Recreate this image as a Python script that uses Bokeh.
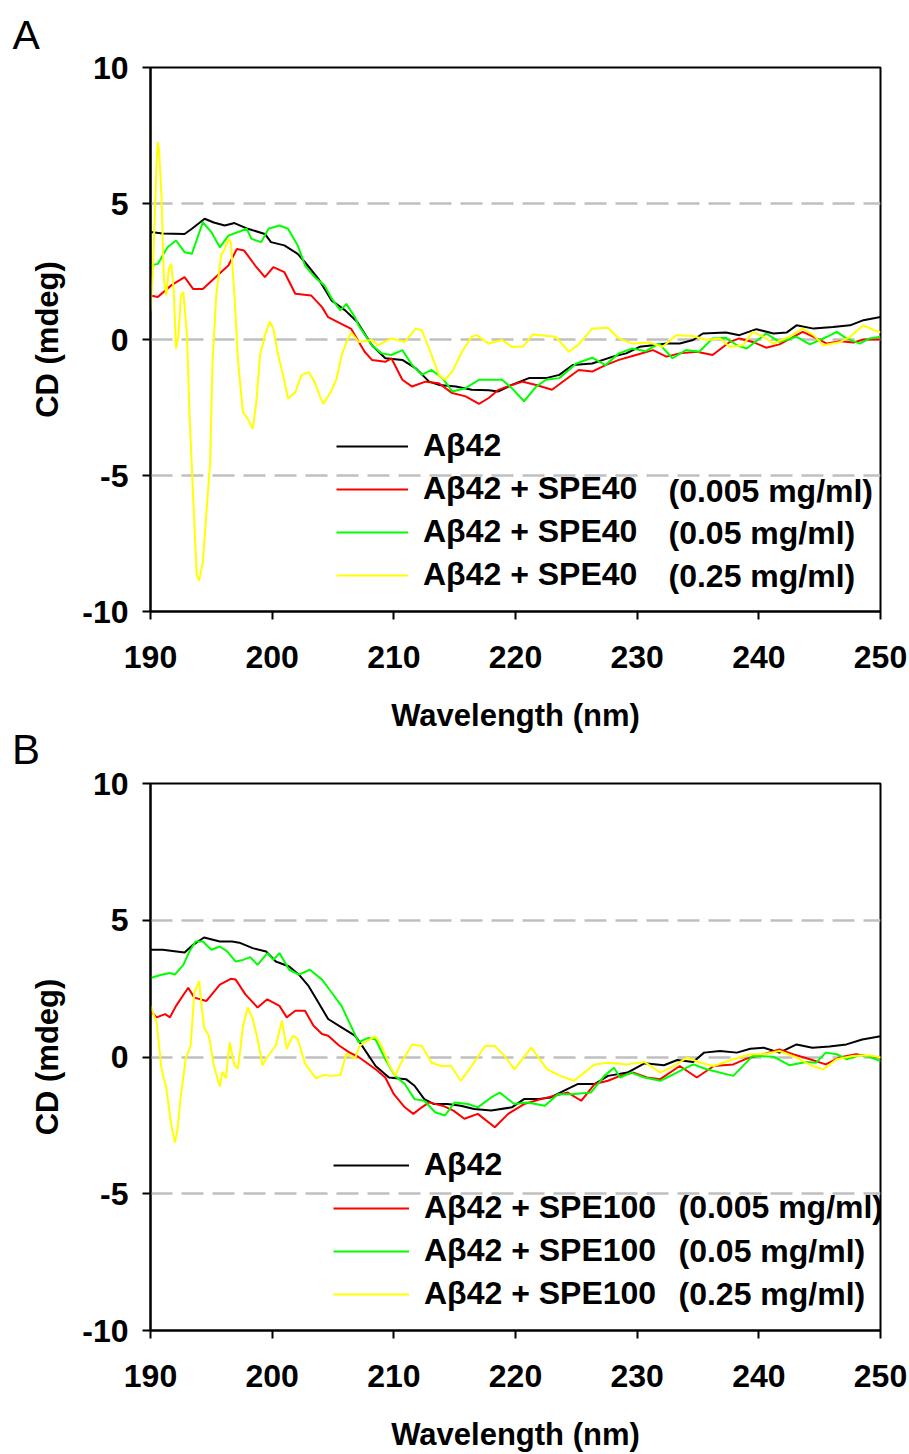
from bokeh.plotting import figure
from bokeh.models import Legend, LegendItem, FixedTicker, Range1d, Title, Label, Div
from bokeh.layouts import column
from bokeh.embed import file_html
from bokeh.resources import INLINE

FONT = "Liberation Sans"

# ---------------- Panel A data (wavelength nm, CD mdeg) ----------------
a_black_x = [190, 191, 192.8, 193.4, 194.45, 195.2, 196.1, 196.9, 198, 199.4, 199.9, 201, 202.1, 202.7,
             203.8, 204.9, 206, 207, 208.2, 209.3, 210.7, 211.8, 212.9, 213.7, 215.1, 216.4, 217.8, 218.6,
             219.7, 221.1, 222.5, 223.6, 224.7, 226.3, 228, 229.1, 230.2, 231.3, 232.4, 233.5, 234.6, 235.4,
             237.3, 238.4, 239.8, 241.2, 242.3, 243.1, 244.5, 246.1, 247.5, 248.6, 250]
a_black_y = [3.95, 3.9, 3.88, 4.07, 4.44, 4.3, 4.19, 4.28, 4.07, 3.88, 3.58, 3.46, 3.15, 2.84,
             2.23, 1.43, 1.07, 0.64, -0.21, -0.69, -0.75, -1.06, -1.55, -1.67, -1.73, -1.85, -1.87, -1.91,
             -1.67, -1.42, -1.42, -1.30, -0.94, -0.88, -0.63, -0.51, -0.27, -0.21, -0.15, -0.15, -0.02, 0.22,
             0.26, 0.16, 0.38, 0.22, 0.26, 0.52, 0.40, 0.46, 0.52, 0.71, 0.83]

a_red_x = [190, 190.6, 191.7, 192.8, 193.5, 194.3, 195.5, 196.4, 197.1, 197.7, 198.6, 199.4, 200.1, 201,
           201.9, 203.2, 204.1, 204.6, 205.4, 206.5, 207, 207.6, 208.2, 209.3, 209.8, 210.7, 211.5, 212.6,
           213.7, 214.8, 215.9, 217, 217.8, 218.6, 219.7, 220.6, 221.7, 223, 224.1, 225.2, 226.3, 227.4,
           228.5, 229.9, 231.3, 232.4, 233.5, 234.9, 236.2, 237.6, 238.4, 239.5, 240.6, 241.7, 243.6, 244.5,
           245.6, 246.7, 247.8, 248.6, 250]
a_red_y = [1.62, 1.56, 1.99, 2.29, 1.86, 1.86, 2.35, 2.72, 3.33, 3.27, 2.72, 2.29, 2.66, 2.48,
           1.68, 1.62, 1.19, 0.82, 0.64, 0.39, 0.0, -0.45, -0.75, -0.82, -0.69, -1.48, -1.73, -1.55,
           -1.61, -1.97, -2.09, -2.37, -2.15, -1.85, -1.67, -1.55, -1.67, -1.85, -1.48, -1.12, -1.18, -0.94,
           -0.75, -0.57, -0.39, -0.63, -0.51, -0.45, -0.57, -0.09, 0.04, -0.09, -0.30, -0.18, 0.28, 0.10,
           -0.15, -0.06, -0.11, 0.0, 0.0]

a_green_x = [190, 190.6, 191.4, 192.1, 192.8, 193.4, 194.3, 195, 195.7, 196.4, 197.2, 197.9, 198.3, 199.1,
             199.7, 200.6, 201.3, 202.1, 202.7, 203.5, 204.3, 204.9, 205.6, 206.1, 206.8, 207.1, 208.2, 209,
             209.8, 210.7, 211.5, 212.3, 213.1, 214, 214.8, 215.9, 217, 218.1, 218.9, 219.7, 220.7, 221.7,
             222.5, 223.6, 225, 226.3, 227.4, 228.5, 229.6, 230.7, 231.8, 232.9, 234, 235.1, 236.2, 237.3,
             238.2, 239, 240.6, 241.7, 243.1, 244.2, 245.6, 246.4, 247.2, 248.3, 249.1, 250]
a_green_y = [2.72, 2.78, 3.39, 3.64, 3.21, 3.15, 4.31, 3.95, 3.39, 3.82, 3.95, 4.07, 3.70, 3.58,
             4.07, 4.19, 4.07, 3.46, 2.72, 2.29, 1.99, 1.50, 1.07, 1.31, 0.82, 0.52, -0.21, -0.51,
             -0.57, -0.39, -0.94, -1.30, -1.12, -1.42, -1.91, -1.79, -1.48, -1.48, -1.48, -1.79, -2.27, -1.73,
             -1.48, -1.42, -0.88, -0.67, -0.94, -0.51, -0.33, -0.43, -0.15, -0.69, -0.39, -0.45, 0.04, 0.06,
             -0.21, -0.33, 0.22, -0.09, 0.10, -0.18, 0.10, 0.28, 0.04, -0.15, 0.04, 0.10]

a_yellow_x = [190, 190.2, 190.5, 190.6, 190.7, 190.9, 191.1, 191.3, 191.5, 191.7, 191.9, 192.1, 192.3, 192.5,
              192.7, 193, 193.2, 193.5, 193.8, 194, 194.3, 194.6, 194.9, 195.1, 195.4, 195.8, 196.1, 196.4,
              196.6, 196.9, 197.2, 197.6, 198, 198.4, 198.7, 199, 199.4, 199.8, 200.1, 200.5, 200.9, 201.3,
              201.9, 202.4, 203, 203.5, 203.9, 204.2, 204.8, 205.3, 205.7, 206.1, 206.5, 207.1, 208.2, 208.7,
              209.8, 210.9, 211.8, 212.3, 213.1, 213.7, 214.2, 214.8, 215.6, 216.4, 216.8, 217.8, 218.9, 219.7,
              220.6, 221.4, 223.3, 224.4, 225.2, 226.3, 227.6, 228.5, 229.6, 231, 232.1, 233.2, 234.6, 235.7,
              236.8, 237.6, 238.7, 239.5, 240.4, 241.2, 242.5, 243.6, 244.5, 245.3, 246.7, 247.5, 248.6, 249.5,
              250]
a_yellow_y = [1.07, 2.60, 6.52, 7.25, 7.0, 5.29, 2.23, 1.62, 2.60, 2.78, 1.86, -0.34, 0.15, 1.62,
              1.74, 0.15, -2.67, -5.74, -8.68, -8.86, -8.19, -6.35, -4.51, -0.83, 1.62, 3.09, 3.33, 3.70,
              3.58, 1.62, -0.83, -2.67, -2.92, -3.28, -2.30, -0.59, 0.15, 0.66, 0.39, -0.59, -1.32, -2.18,
              -1.94, -1.32, -1.20, -1.57, -2.06, -2.37, -1.94, -1.45, -0.59, -0.10, 0.25, -0.09, -0.02, -0.21,
              0.04, -0.09, 0.40, 0.34, -0.57, -1.30, -1.48, -1.18, -0.45, 0.10, 0.16, -0.15, -0.02, -0.27,
              -0.27, 0.18, 0.10, -0.45, -0.18, 0.40, 0.43, 0.04, -0.15, -0.11, -0.27, 0.16, 0.13, -0.02,
              0.04, -0.27, -0.21, 0.28, 0.10, -0.15, 0.10, 0.40, 0.16, -0.21, -0.09, 0.10, 0.52, 0.34,
              0.26]

# ---------------- Panel B data ----------------
b_black_x = [190, 191, 192.8, 193.5, 194.4, 195.7, 196.7, 197.3, 198.4, 199.5, 200.3, 201.4, 202.2, 203,
             203.8, 204.6, 205.7, 206.8, 207.3, 208.5, 209.6, 211, 211.7, 212.5, 213.3, 214.4, 215.5, 216.6,
             218, 219.7, 220.7, 221.8, 222.9, 224, 225.1, 226.5, 227.6, 229.2, 230.6, 232.2, 233.3, 234.6,
             235.5, 236.8, 238.2, 239.3, 240.4, 241.7, 243.1, 244.4, 245.8, 247.2, 248.5, 250]
b_black_y = [3.92, 3.92, 3.82, 4.10, 4.37, 4.22, 4.22, 4.18, 3.98, 3.86, 3.49, 3.31, 3.01, 2.59,
             1.99, 1.39, 1.08, 0.78, 0.47, -0.33, -0.75, -0.81, -1.05, -1.54, -1.72, -1.72, -1.78, -1.90,
             -1.96, -1.84, -1.54, -1.54, -1.48, -1.23, -0.99, -0.99, -0.69, -0.57, -0.23, -0.30, -0.11, -0.18,
             0.16, 0.22, 0.16, 0.30, 0.34, 0.16, 0.46, 0.34, 0.38, 0.46, 0.64, 0.76]

b_red_x = [190, 190.5, 191.2, 191.6, 192.1, 193.1, 193.6, 194.6, 195.7, 196.6, 197, 197.8, 198.8, 199.6,
           200.6, 201.2, 201.9, 202.7, 203.4, 204.1, 204.6, 205.5, 206.3, 207.1, 208.5, 209.3, 210, 210.9,
           211.6, 212.3, 212.9, 214, 214.9, 215.8, 216.9, 218.3, 219.4, 220.7, 222.1, 223.2, 224.3, 225.4,
           226.5, 227.6, 228.6, 229.7, 230.8, 231.9, 233.5, 234.9, 236.3, 237.9, 239, 240.4, 241.7, 242.8,
           244.2, 245.5, 246.6, 248, 248.8, 250]
b_red_y = [1.69, 1.45, 1.57, 1.45, 1.87, 2.53, 2.17, 2.05, 2.65, 2.86, 2.83, 2.29, 1.81, 2.11,
           1.87, 1.45, 1.69, 1.69, 1.14, 0.84, 0.78, 0.42, 0.18, 0.0, -0.45, -0.75, -1.36, -1.84,
           -2.08, -1.84, -1.66, -1.78, -1.96, -2.26, -2.08, -2.57, -2.08, -1.72, -1.54, -1.42, -1.30, -1.60,
           -0.99, -0.87, -0.69, -0.57, -0.75, -0.81, -0.33, -0.75, -0.33, -0.27, -0.06, 0.10, 0.28, 0.10,
           -0.08, -0.27, -0.02, 0.10, 0.04, -0.02]

b_green_x = [190, 190.9, 191.6, 192, 192.7, 193.2, 193.7, 194.3, 195, 195.7, 196.3, 197, 197.6, 198.2,
             198.8, 199.6, 200.1, 200.6, 201.4, 202.2, 203.1, 204.1, 204.9, 205.7, 206.6, 207.1, 207.9, 208.5,
             209.3, 210.1, 210.9, 211.7, 212.5, 213.4, 214.2, 215, 216.1, 216.9, 218, 218.7, 219.9, 221,
             222.4, 223.5, 224.6, 226.2, 227.3, 228.1, 228.6, 229.5, 230.6, 231.9, 233, 234.6, 235.7, 237.9,
             239.5, 241.2, 242.5, 243.9, 244.7, 245.5, 246.4, 247.2, 248.3, 249.1, 250]
b_green_y = [2.89, 3.01, 3.07, 3.01, 3.37, 3.86, 4.22, 4.22, 3.92, 4.04, 3.86, 3.49, 3.55, 3.65,
             3.37, 3.80, 3.55, 3.80, 3.19, 3.01, 3.19, 2.83, 2.35, 1.87, 1.02, 0.54, 0.70, 0.64,
             -0.08, -0.69, -0.99, -1.54, -1.60, -2.02, -2.14, -1.66, -1.72, -1.84, -1.48, -1.30, -1.72, -1.66,
             -1.78, -1.36, -1.36, -1.30, -0.69, -0.39, -0.75, -0.57, -0.75, -0.87, -0.63, -0.27, -0.45, -0.69,
             0.04, 0.01, -0.30, -0.18, -0.21, 0.16, 0.10, -0.08, 0.06, 0.01, -0.15]

b_yellow_x = [190, 190.5, 190.9, 191.3, 191.7, 192, 192.2, 192.5, 192.9, 193.3, 193.6, 194, 194.2, 194.4,
              194.8, 195.2, 195.7, 195.9, 196.2, 196.5, 196.9, 197.2, 197.6, 198, 198.4, 198.8, 199.2, 199.6,
              200.3, 200.8, 201.2, 201.7, 202.1, 202.7, 203.6, 204.2, 204.9, 205.6, 206.1, 206.8, 207.2, 208.5,
              209, 209.6, 210.1, 210.6, 211.5, 212.3, 213.1, 213.9, 214.7, 215.5, 216.4, 217.5, 218.3, 219.1,
              219.9, 221.3, 222.6, 223.7, 224.8, 226.5, 227.6, 229.2, 230.6, 231.9, 233, 234.1, 235.2, 236.3,
              237.9, 239.3, 240.4, 241.7, 243.1, 244.4, 245.3, 246.4, 247.7, 249.1, 250]
b_yellow_y = [1.87, 1.27, -0.42, -1.14, -2.47, -3.13, -2.71, -1.39, -0.06, 0.42, 2.35, 2.77, 1.87, 1.08,
              0.78, -0.30, -1.08, -0.54, -0.78, 0.54, -0.30, -0.42, 1.14, 1.81, 1.39, 0.66, -0.30, 0.0,
              0.42, 1.33, 0.30, 0.78, 0.66, -0.24, -0.78, -0.66, -0.69, -0.66, 0.12, -0.06, 0.42, 0.76,
              0.40, -0.27, -0.69, -0.21, 0.46, 0.40, -0.21, -0.33, -0.33, -0.87, -0.33, 0.40, 0.40, 0.04,
              -0.45, 0.34, -0.45, -0.69, -0.87, -0.27, -0.21, -0.27, -0.18, -0.57, -0.33, -0.02, -0.21, -0.33,
              -0.08, 0.10, 0.10, 0.22, -0.02, -0.33, -0.45, -0.08, 0.04, 0.06, -0.02]

y_ticks = [-10, -5, 0, 5, 10]
y_tick_labels = {-10: "-10", -5: "-5", 0: "0", 5: "5", 10: "10"}
grid_ticks = [-5, 0, 5]
x_ticks = [190, 200, 210, 220, 230, 240, 250]
colors = ["#000000", "#ff0000", "#00ff00", "#ffff00"]
conc_labels = ["(0.005 mg/ml)", "(0.05 mg/ml)", "(0.25 mg/ml)"]
names_a = ["Aβ42", "Aβ42 + SPE40", "Aβ42 + SPE40", "Aβ42 + SPE40"]
names_b = ["Aβ42", "Aβ42 + SPE100", "Aβ42 + SPE100", "Aβ42 + SPE100"]

LEFT, RIGHT = 150, 29


def make_panel(series, names, conc, height, top, bottom, leg_x, conc_x, conc_ys, leg_glyph_w):
    p = figure(width=909, height=height, output_backend="svg", toolbar_location=None,
               x_range=Range1d(190, 250), y_range=Range1d(-10, 10),
               min_border_left=LEFT, min_border_right=RIGHT,
               min_border_top=top, min_border_bottom=bottom)
    p.outline_line_color = "black"
    p.outline_line_width = 2
    p.background_fill_color = "white"
    p.border_fill_alpha = 0

    p.xgrid.visible = False
    p.ygrid.ticker = FixedTicker(ticks=grid_ticks)
    p.ygrid.grid_line_color = "#c0c0c0"
    p.ygrid.grid_line_width = 2.5
    p.ygrid.grid_line_dash = "22 9"

    for ax in (p.xaxis[0], p.yaxis[0]):
        ax.axis_line_width = 2
        ax.axis_line_color = "black"
        ax.major_tick_line_width = 2
        ax.major_tick_out = 8
        ax.major_tick_in = 0
        ax.minor_tick_line_color = None
        ax.major_label_text_font = FONT
        ax.major_label_text_font_size = "32px"
        ax.major_label_text_font_style = "bold"
        ax.major_label_text_color = "black"
        ax.axis_label_text_font = FONT
        ax.axis_label_text_font_size = "31px"
        ax.axis_label_text_font_style = "bold"
        ax.axis_label_text_color = "black"
    p.xaxis.ticker = FixedTicker(ticks=x_ticks)
    p.yaxis.ticker = FixedTicker(ticks=y_ticks)
    p.yaxis.major_label_overrides = y_tick_labels
    p.xaxis.axis_label = "Wavelength (nm)"
    p.yaxis.axis_label = "CD (mdeg)"
    p.xaxis.major_label_standoff = 26
    p.xaxis.axis_label_standoff = 27
    p.yaxis.major_label_standoff = 14
    p.yaxis.axis_label_standoff = 14

    rends = []
    for (xs, ys), c in zip(series, colors):
        r = p.line(xs, ys, line_color=c, line_width=2)
        rends.append(r)

    leg = Legend(items=[LegendItem(label=n, renderers=[r]) for n, r in zip(names, rends)],
                 location=(leg_x, 18), orientation="vertical",
                 glyph_width=leg_glyph_w, glyph_height=30, label_height=30, spacing=6,
                 label_standoff=15, padding=0, margin=0,
                 background_fill_alpha=0, border_line_alpha=0,
                 label_text_font=FONT, label_text_font_size="32px",
                 label_text_font_style="bold", label_text_color="black")
    p.add_layout(leg)

    for t, yy in zip(conc, conc_ys):
        p.add_layout(Label(x=conc_x, y=yy, x_units="screen", y_units="screen", text=t,
                           text_font=FONT, text_font_size="32px", text_font_style="bold",
                           text_color="black", text_baseline="middle", text_align="left"))
    return p


pa = make_panel([(a_black_x, a_black_y), (a_red_x, a_red_y), (a_green_x, a_green_y), (a_yellow_x, a_yellow_y)],
                names_a, conc_labels, 735, 67, 123, 186, 518, [121, 79, 36], 72)
pa.add_layout(Title(text="A", align="left", offset=12 - LEFT, text_font=FONT,
                    text_font_size="41px", text_font_style="normal", text_color="black",
                    standoff=19), "above")

label_b = Div(text="B", width=909, height=28, margin=(0, 0, 0, 0),
              styles={"font-family": "Liberation Sans", "font-size": "42px", "line-height": "30px",
                      "padding-left": "12px", "color": "black", "overflow": "visible"})

pb = make_panel([(b_black_x, b_black_y), (b_red_x, b_red_y), (b_green_x, b_green_y), (b_yellow_x, b_yellow_y)],
                names_b, conc_labels, 691, 20, 121, 183, 528, [124, 80, 37], 76)

layout = column(pa, label_b, pb, spacing=0)
open("out.html", "w").write(file_html(layout, INLINE))
